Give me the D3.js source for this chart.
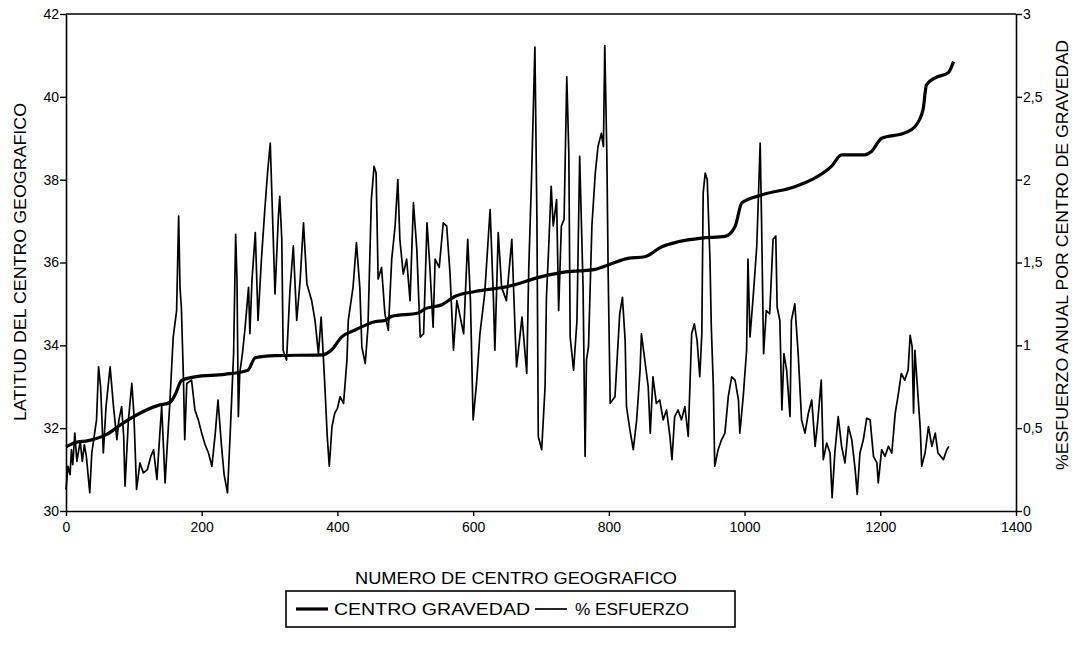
<!DOCTYPE html>
<html>
<head>
<meta charset="utf-8">
<script src="https://cdn.jsdelivr.net/npm/d3@7"></script>
<style>
  body { margin: 0; background: #fff; }
  svg text { font-family: "Liberation Sans", Arial, sans-serif; fill: #000; }
</style>
</head>
<body>
<svg id="chart"></svg>
<script>
// CENTRO GRAVEDAD (left axis, latitude)
const centroIdx = [0, 13, 33, 60, 82, 102, 136, 153, 162, 170, 190, 234, 268, 279, 308, 377, 392, 406, 426, 455, 470,
  480, 519, 529, 554, 573, 603, 651, 701, 740, 775, 799, 828, 853, 878, 902, 937, 971, 986, 996, 1025, 1074,
  1099, 1128, 1143, 1177, 1187, 1202, 1236, 1251, 1263, 1268, 1281, 1300, 1308];
const centroLat = [31.55, 31.65, 31.7, 31.85, 32.1, 32.3, 32.55, 32.62, 32.85, 33.15, 33.24, 33.3, 33.4, 33.7, 33.75, 33.77, 33.9, 34.2, 34.37, 34.57, 34.6,
  34.7, 34.78, 34.88, 34.98, 35.18, 35.3, 35.42, 35.66, 35.78, 35.82, 35.94, 36.1, 36.14, 36.38, 36.5, 36.59, 36.63, 36.87, 37.44, 37.63, 37.83,
  38.0, 38.32, 38.6, 38.6, 38.68, 39.0, 39.13, 39.28, 39.69, 40.29, 40.46, 40.58, 40.85];

// % ESFUERZO (right axis)
const esfuerzoIdx = [0, 3, 6, 8, 10, 13, 16, 18, 21, 24, 27, 30, 35, 38, 45, 48, 51, 55, 59, 65, 70, 75, 78, 82, 85, 87, 92, 97, 100, 104,
  109, 114, 120, 125, 129, 134, 138, 141, 146, 150, 153, 158, 163, 166, 168, 170, 173, 175, 178, 185, 190, 195, 200, 205, 210, 215, 220, 224, 229, 233,
  238, 242, 247, 250, 252, 254, 256, 260, 264, 269, 271, 274, 279, 283, 288, 293, 297, 301, 305, 308, 313, 315, 318, 320, 325, 330, 335, 340, 345, 350,
  355, 362, 367, 372, 376, 379, 382, 385, 388, 392, 396, 400, 404, 409, 414, 416, 423, 428, 433, 436, 441, 445, 450, 454, 457, 460, 465, 470, 475, 480,
  485, 489, 492, 497, 502, 507, 512, 517, 522, 527, 532, 536, 541, 544, 550, 556, 561, 566, 571, 576, 581, 586, 592, 596, 600, 605, 610, 617, 625, 630,
  632, 637, 642, 649, 657, 662, 664, 672, 679, 682, 686, 691, 694, 696, 701, 706, 708, 711, 715, 718, 723, 726, 730, 734, 738, 741, 743, 748, 753, 757,
  762, 765, 767, 770, 775, 780, 784, 789, 792, 794, 797, 799, 802, 809, 816, 820, 824, 826, 831, 836, 841, 846, 848, 853, 858, 861, 865, 870, 875, 880,
  885, 890, 893, 897, 902, 907, 912, 917, 922, 926, 930, 934, 937, 939, 942, 945, 949, 951, 954, 956, 961, 966, 971, 976, 981, 986, 991, 993, 998, 1003,
  1005, 1008, 1013, 1018, 1023, 1025, 1028, 1032, 1037, 1042, 1046, 1048, 1052, 1055, 1058, 1062, 1067, 1069, 1074, 1079, 1084, 1089, 1094, 1099, 1104, 1108, 1113, 1116, 1121, 1126,
  1129, 1133, 1138, 1143, 1148, 1153, 1158, 1163, 1166, 1170, 1175, 1180, 1185, 1190, 1195, 1197, 1202, 1207, 1212, 1217, 1222, 1226, 1231, 1236, 1241, 1244, 1247, 1249, 1251, 1256,
  1259, 1261, 1266, 1271, 1276, 1281, 1285, 1293, 1298, 1301];
const esfuerzoPct = [0.13, 0.27, 0.22, 0.37, 0.28, 0.47, 0.30, 0.35, 0.42, 0.30, 0.40, 0.33, 0.11, 0.35, 0.55, 0.87, 0.75, 0.35, 0.63, 0.87, 0.63, 0.43, 0.55, 0.63, 0.45, 0.15, 0.55, 0.77, 0.59, 0.13,
  0.29, 0.23, 0.25, 0.33, 0.37, 0.19, 0.45, 0.63, 0.17, 0.45, 0.65, 1.05, 1.21, 1.78, 1.35, 1.23, 0.81, 0.43, 0.77, 0.79, 0.61, 0.55, 0.47, 0.40, 0.35, 0.27, 0.47, 0.67, 0.40, 0.22,
  0.11, 0.47, 0.95, 1.67, 1.39, 0.57, 0.83, 0.95, 1.11, 1.35, 1.07, 1.39, 1.68, 1.15, 1.52, 1.82, 2.04, 2.22, 1.70, 1.31, 1.78, 1.90, 1.64, 0.97, 0.91, 1.33, 1.60, 1.15, 1.39, 1.74,
  1.37, 1.27, 1.15, 0.95, 1.17, 0.95, 0.71, 0.45, 0.27, 0.51, 0.59, 0.62, 0.69, 0.65, 0.91, 1.15, 1.35, 1.62, 1.35, 0.99, 0.89, 1.11, 1.88, 2.08, 2.04, 1.40, 1.47, 1.19, 1.09, 1.52,
  1.72, 2.00, 1.64, 1.43, 1.52, 1.27, 1.86, 1.58, 1.05, 1.07, 1.74, 1.49, 1.11, 1.52, 1.47, 1.74, 1.72, 1.43, 0.97, 1.27, 1.17, 1.07, 1.64, 1.27, 0.55, 0.77, 1.07, 1.31, 1.82, 1.27,
  0.97, 1.68, 1.35, 1.27, 1.64, 1.07, 0.87, 1.17, 0.83, 1.47, 2.00, 2.80, 1.76, 0.45, 0.37, 0.75, 1.29, 1.56, 1.96, 1.72, 1.88, 1.21, 1.72, 1.76, 2.62, 2.16, 1.05, 0.85, 1.15, 2.14,
  1.35, 0.33, 0.91, 0.99, 1.72, 2.04, 2.20, 2.28, 2.20, 2.81, 2.16, 1.43, 0.65, 0.69, 1.19, 1.29, 1.03, 0.63, 0.49, 0.37, 0.55, 0.85, 1.07, 0.91, 0.75, 0.47, 0.81, 0.65, 0.67, 0.55,
  0.61, 0.45, 0.31, 0.57, 0.61, 0.55, 0.63, 0.45, 1.07, 1.13, 1.03, 0.81, 1.07, 1.92, 2.04, 2.00, 1.52, 1.11, 0.75, 0.27, 0.37, 0.43, 0.47, 0.69, 0.81, 0.79, 0.67, 0.47, 0.69, 0.97,
  1.52, 1.05, 1.31, 1.60, 2.22, 1.76, 0.95, 1.21, 1.19, 1.64, 1.66, 1.23, 1.15, 0.61, 0.95, 0.85, 0.57, 1.15, 1.25, 0.95, 0.55, 0.47, 0.59, 0.67, 0.39, 0.55, 0.79, 0.31, 0.41, 0.35,
  0.08, 0.35, 0.57, 0.39, 0.29, 0.51, 0.43, 0.25, 0.10, 0.35, 0.43, 0.56, 0.55, 0.33, 0.29, 0.17, 0.37, 0.33, 0.39, 0.35, 0.59, 0.69, 0.83, 0.79, 0.85, 1.06, 0.99, 0.59, 0.97, 0.67,
  0.49, 0.27, 0.35, 0.51, 0.39, 0.47, 0.35, 0.31, 0.37, 0.39];

const xTicks = [0, 200, 400, 600, 800, 1000, 1200, 1400];
const leftTicks = [30, 32, 34, 36, 38, 40, 42];
const rightTicks = [0, 0.5, 1, 1.5, 2, 2.5, 3];

const chartHelper = (function () {
  const ch = {};

  ch.draw = function (svgId) {
    const svg = d3.select(`#${svgId}`);
    const [width, height] = [1080, 652];
    svg.attr('width', width).attr('height', height);

    const plot = { left: 66, right: 1016, top: 14, bottom: 511 };

    const xScale = d3.scaleLinear().domain([0, 1400]).range([plot.left, plot.right]);
    const yLeft = d3.scaleLinear().domain([30, 42]).range([plot.bottom, plot.top]);
    const yRight = d3.scaleLinear().domain([0, 3]).range([plot.bottom, plot.top]);

    const fmtComma = v => String(v).replace('.', ',');

    // frame top line
    svg.append('line')
      .attr('x1', plot.left).attr('x2', plot.right)
      .attr('y1', plot.top).attr('y2', plot.top)
      .attr('stroke', '#000').attr('stroke-width', 1.6);

    const xAxisG = svg.append('g')
      .attr('transform', `translate(0, ${plot.bottom})`)
      .call(d3.axisBottom(xScale).tickValues(xTicks).tickSize(5).tickSizeOuter(0).tickFormat(d3.format('d')));

    const yLeftG = svg.append('g')
      .attr('transform', `translate(${plot.left}, 0)`)
      .call(d3.axisLeft(yLeft).tickValues(leftTicks).tickSize(6).tickSizeOuter(0));

    const yRightG = svg.append('g')
      .attr('transform', `translate(${plot.right}, 0)`)
      .call(d3.axisRight(yRight).tickValues(rightTicks).tickSize(6).tickSizeOuter(0).tickFormat(fmtComma));

    [xAxisG, yLeftG, yRightG].forEach(g => {
      g.select('.domain').attr('stroke', '#000').attr('stroke-width', 1.6);
      g.selectAll('.tick line').attr('stroke', '#000').attr('stroke-width', 1.4);
      g.selectAll('.tick text')
        .attr('font-size', 14)
        .attr('font-family', '"Liberation Sans", Arial, sans-serif')
        .attr('fill', '#000');
    });
    xAxisG.selectAll('.tick text').attr('dy', '0.9em');
    yLeftG.selectAll('.tick text').attr('x', -7);
    yRightG.selectAll('.tick text').attr('x', 7);

    // series
    const esfuerzo = esfuerzoIdx.map((x, i) => [x, esfuerzoPct[i]]);
    const centro = centroIdx.map((x, i) => [x, centroLat[i]]);

    svg.append('path')
      .datum(esfuerzo)
      .attr('fill', 'none')
      .attr('stroke', '#000')
      .attr('stroke-width', 1.7)
      .attr('stroke-linejoin', 'round')
      .attr('d', d3.line().x(d => xScale(d[0])).y(d => yRight(d[1])));

    svg.append('path')
      .datum(centro)
      .attr('fill', 'none')
      .attr('stroke', '#000')
      .attr('stroke-width', 3.2)
      .attr('stroke-linejoin', 'round')
      .attr('d', d3.line().x(d => xScale(d[0])).y(d => yLeft(d[1])).curve(d3.curveMonotoneX));

    // axis titles
    svg.append('text')
      .attr('x', 516).attr('y', 584)
      .attr('text-anchor', 'middle')
      .attr('font-size', 16)
      .attr('textLength', 322).attr('lengthAdjust', 'spacingAndGlyphs')
      .text('NUMERO DE CENTRO GEOGRAFICO');

    svg.append('text')
      .attr('transform', 'translate(26, 262) rotate(-90)')
      .attr('text-anchor', 'middle')
      .attr('font-size', 16)
      .attr('textLength', 318).attr('lengthAdjust', 'spacingAndGlyphs')
      .text('LATITUD DEL CENTRO GEOGRAFICO');

    svg.append('text')
      .attr('transform', 'translate(1068, 255) rotate(-90)')
      .attr('text-anchor', 'middle')
      .attr('font-size', 16)
      .attr('textLength', 430).attr('lengthAdjust', 'spacingAndGlyphs')
      .text('%ESFUERZO ANUAL POR CENTRO DE GRAVEDAD');

    // legend
    const lg = svg.append('g').attr('transform', 'translate(286, 591)');
    lg.append('rect')
      .attr('width', 449).attr('height', 36)
      .attr('fill', '#fff').attr('stroke', '#000').attr('stroke-width', 1.6);
    const legendItems = [
      { name: 'CENTRO GRAVEDAD', w: 3.2, x: 10, tx: 48, tl: 196 },
      { name: '% ESFUERZO', w: 1.7, x: 249, tx: 289, tl: 114 }
    ];
    legendItems.forEach(it => {
      lg.append('line')
        .attr('x1', it.x).attr('x2', it.x + 32)
        .attr('y1', 18).attr('y2', 18)
        .attr('stroke', '#000').attr('stroke-width', it.w);
      lg.append('text')
        .attr('x', it.tx).attr('y', 24)
        .attr('font-size', 16)
        .attr('textLength', it.tl).attr('lengthAdjust', 'spacingAndGlyphs')
        .text(it.name);
    });

    return svg;
  };

  return ch;
})();

chartHelper.draw('chart');
</script>
</body>
</html>
